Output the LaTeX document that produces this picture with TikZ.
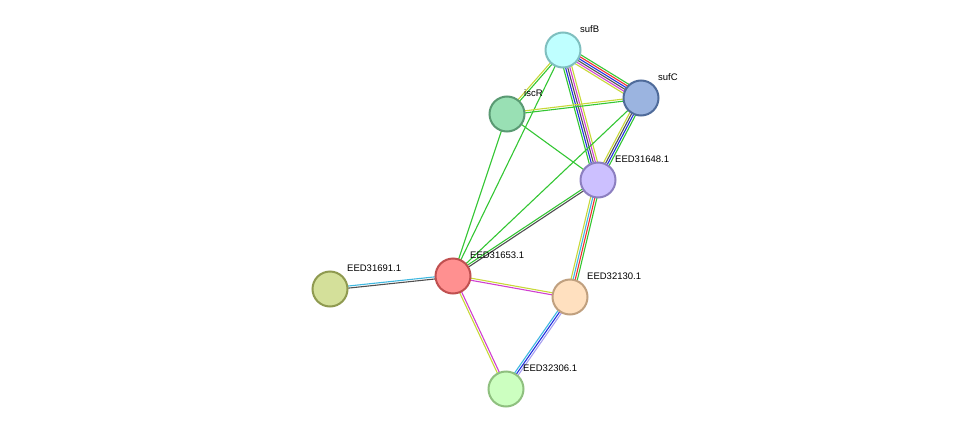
\documentclass[tikz,border=0pt]{standalone}
\usepackage{fontspec}
\setmainfont{Liberation Sans}
\usetikzlibrary{calc}
\definecolor{sgreen}{HTML}{33C633}
\definecolor{syellow}{HTML}{C8D838}
\definecolor{smag}{HTML}{D040D0}
\definecolor{sgray}{HTML}{505050}
\definecolor{sblue}{HTML}{2030E0}
\definecolor{sred}{HTML}{F03030}
\definecolor{scyan}{HTML}{40B8E0}
\definecolor{slav}{HTML}{A8A0F0}
\tikzset{
  prot/.style 2 args={circle,draw=#2,fill=#1,line width=2pt,minimum size=35pt,inner sep=0pt},
  lbl/.style={font=\fontsize{9.5}{10}\selectfont,anchor=south west,inner sep=1pt}
}
% edge with parallel coloured lines
\newcommand{\bundle}[3]{%
  \foreach \c [count=\i] in {#3} {\global\let\nb\i}%
  \foreach \c [count=\i] in {#3} {%
    \pgfmathsetmacro{\off}{(\i-(\nb+1)/2)*2.1}%
    \draw[\c,line width=1.1pt] ($(#1)!\off pt!90:(#2)$) -- ($(#2)!\off pt!-90:(#1)$);
  }}
\begin{document}
\begin{tikzpicture}[x=1pt,y=-1pt]
  \useasboundingbox (0,0) rectangle (975,434);
  \coordinate (sufB) at (563,50);
  \coordinate (sufC) at (641,98);
  \coordinate (iscR) at (507,114);
  \coordinate (p648) at (598,180);
  \coordinate (p653) at (453,276);
  \coordinate (p691) at (330,289);
  \coordinate (p130) at (570,297);
  \coordinate (p306) at (506,389);

  \bundle{sufB}{sufC}{syellow,smag,sgray,sblue,sred,sgreen}
  \bundle{sufB}{iscR}{syellow,sgreen}
  \bundle{sufB}{p648}{sgreen,sblue,sgray,smag,syellow}
  \bundle{sufB}{p653}{sgreen}
  \bundle{sufC}{iscR}{syellow,sgreen}
  \bundle{sufC}{p648}{syellow,sgray,sblue,sgreen}
  \bundle{sufC}{p653}{sgreen}
  \bundle{iscR}{p648}{sgreen}
  \bundle{iscR}{p653}{sgreen}
  \bundle{p648}{p653}{sgreen,sgray}
  \bundle{p648}{p130}{syellow,scyan,sred,sgreen}
  \bundle{p653}{p691}{scyan,sgray}
  \bundle{p653}{p130}{smag,syellow}
  \bundle{p653}{p306}{syellow,smag}
  \bundle{p130}{p306}{scyan,sblue,slav}

  \definecolor{fB}{HTML}{BFFFFF}\definecolor{dB}{HTML}{7FBFBF}
  \definecolor{fC}{HTML}{9BB4E0}\definecolor{dC}{HTML}{4F6B9A}
  \definecolor{fR}{HTML}{99E0B4}\definecolor{dR}{HTML}{5A9A73}
  \definecolor{f48}{HTML}{CCC0FF}\definecolor{d48}{HTML}{8C7FC0}
  \definecolor{f53}{HTML}{FF9090}\definecolor{d53}{HTML}{C05050}
  \definecolor{f91}{HTML}{D4E09A}\definecolor{d91}{HTML}{8F9A50}
  \definecolor{f30}{HTML}{FFE0BF}\definecolor{d30}{HTML}{C0A07F}
  \definecolor{f06}{HTML}{CCFFC0}\definecolor{d06}{HTML}{8FC07F}
  \node[prot={fB}{dB}] (nsufB) at (sufB) {};
  \node[prot={fC}{dC}] (nsufC) at (sufC) {};
  \node[prot={fR}{dR}] (niscR) at (iscR) {};
  \node[prot={f48}{d48}] (n648) at (p648) {};
  \node[prot={f53}{d53}] (n653) at (p653) {};
  \node[prot={f91}{d91}] (n691) at (p691) {};
  \node[prot={f30}{d30}] (n130) at (p130) {};
  \node[prot={f06}{d06}] (n306) at (p306) {};

  \node[lbl] at ($(sufB)+(16,-16)$) {sufB};
  \node[lbl] at ($(sufC)+(16,-16)$) {sufC};
  \node[lbl] at ($(iscR)+(16,-16)$) {iscR};
  \node[lbl] at ($(p648)+(16,-16)$) {EED31648.1};
  \node[lbl] at ($(p653)+(16,-16)$) {EED31653.1};
  \node[lbl] at ($(p691)+(16,-16)$) {EED31691.1};
  \node[lbl] at ($(p130)+(16,-16)$) {EED32130.1};
  \node[lbl] at ($(p306)+(16,-16)$) {EED32306.1};
\end{tikzpicture}
\end{document}
